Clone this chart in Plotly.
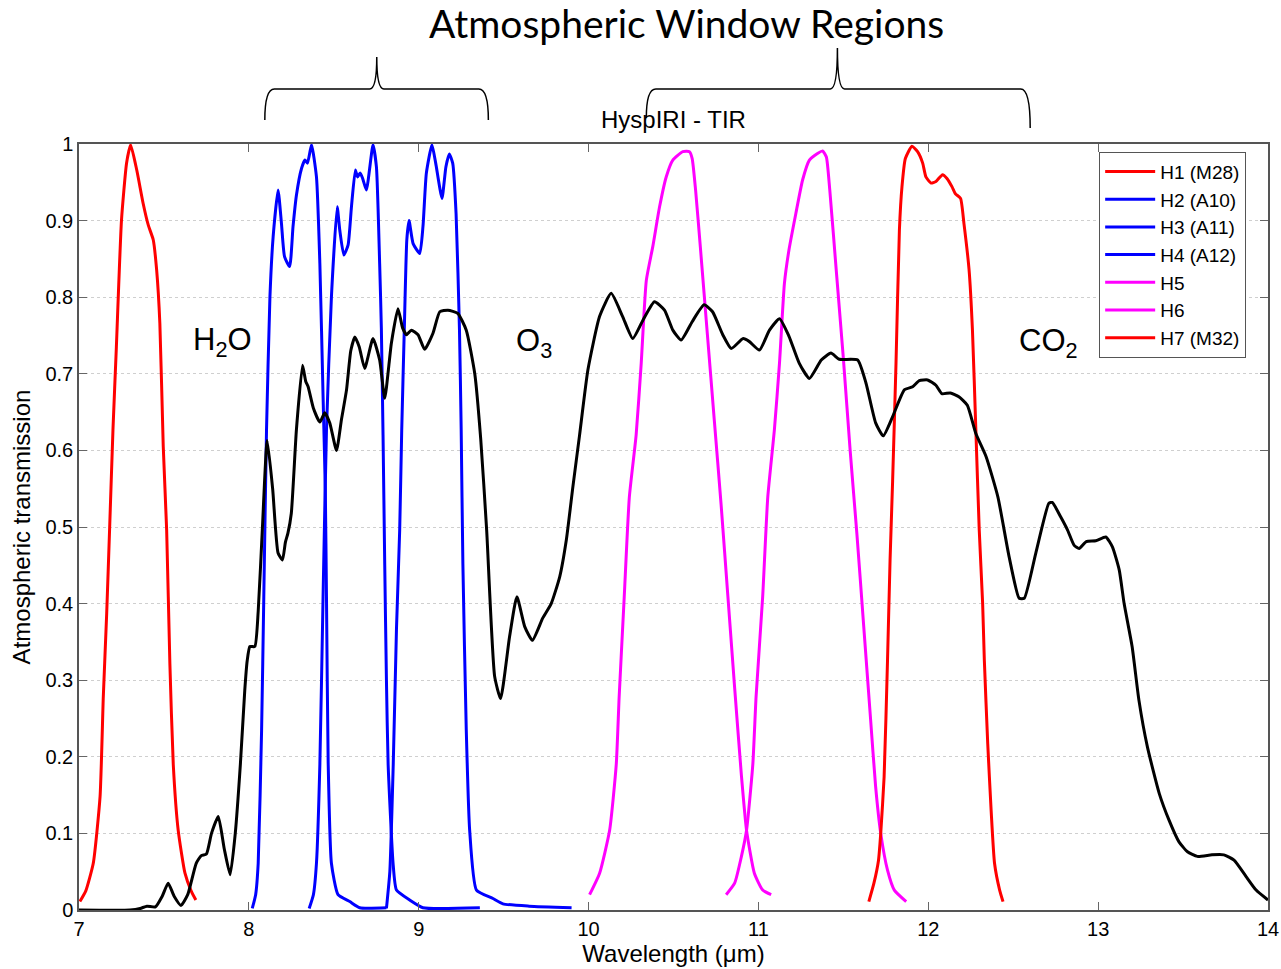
import plotly.graph_objects as go

# ---------------- data ----------------
atm_wavelength = [7.00, 7.30, 7.36, 7.40, 7.45, 7.49, 7.525, 7.56, 7.60, 7.64, 7.69, 7.72, 7.75, 7.78, 7.82,
                  7.855, 7.89, 7.92, 7.95, 7.976, 7.99, 8.006, 8.035, 8.055, 8.08, 8.108, 8.14, 8.172, 8.198,
                  8.215, 8.23, 8.25, 8.28, 8.316, 8.335, 8.349, 8.38, 8.418, 8.447, 8.476, 8.516, 8.545, 8.575,
                  8.60, 8.624, 8.65, 8.682, 8.731, 8.77, 8.80, 8.839, 8.878, 8.905, 8.928, 8.957, 8.996, 9.035,
                  9.084, 9.124, 9.172, 9.23, 9.28, 9.33, 9.365, 9.40, 9.447, 9.482, 9.535, 9.578, 9.624, 9.669,
                  9.73, 9.78, 9.83, 9.869, 9.908, 9.947, 9.996, 10.065, 10.133, 10.20, 10.26, 10.32, 10.388,
                  10.447, 10.496, 10.545, 10.61, 10.68, 10.73, 10.79, 10.84, 10.91, 10.947, 11.006, 11.065,
                  11.124, 11.18, 11.24, 11.30, 11.37, 11.427, 11.476, 11.584, 11.633, 11.69, 11.735, 11.79,
                  11.859, 11.908, 11.947, 11.996, 12.045, 12.08, 12.13, 12.18, 12.23, 12.28, 12.34, 12.41,
                  12.476, 12.535, 12.565, 12.633, 12.71, 12.73, 12.78, 12.82, 12.859, 12.888, 12.93, 12.986,
                  13.045, 13.084, 13.124, 13.153, 13.20, 13.24, 13.29, 13.36, 13.418, 13.476, 13.526, 13.584,
                  13.67, 13.74, 13.80, 13.87, 13.93, 14.00]
atm_transmission = [0.000, 0.000, 0.002, 0.005, 0.004, 0.018, 0.035, 0.018, 0.006, 0.020, 0.061, 0.071, 0.073,
                    0.100, 0.122, 0.080, 0.046, 0.100, 0.190, 0.287, 0.325, 0.344, 0.344, 0.390, 0.500, 0.613,
                    0.550, 0.466, 0.457, 0.480, 0.492, 0.518, 0.627, 0.711, 0.690, 0.683, 0.655, 0.637, 0.649,
                    0.636, 0.600, 0.640, 0.679, 0.730, 0.748, 0.735, 0.707, 0.746, 0.718, 0.668, 0.740, 0.785,
                    0.760, 0.751, 0.757, 0.751, 0.732, 0.753, 0.781, 0.783, 0.779, 0.757, 0.700, 0.615, 0.496,
                    0.305, 0.276, 0.357, 0.409, 0.370, 0.352, 0.381, 0.400, 0.435, 0.483, 0.553, 0.620, 0.705,
                    0.775, 0.805, 0.775, 0.746, 0.770, 0.794, 0.783, 0.757, 0.744, 0.768, 0.790, 0.781, 0.751,
                    0.733, 0.746, 0.742, 0.731, 0.757, 0.772, 0.749, 0.714, 0.694, 0.718, 0.727, 0.719, 0.718,
                    0.688, 0.636, 0.619, 0.644, 0.679, 0.683, 0.691, 0.692, 0.685, 0.674, 0.675, 0.670, 0.659,
                    0.622, 0.592, 0.539, 0.461, 0.407, 0.407, 0.466, 0.531, 0.532, 0.513, 0.496, 0.476, 0.472,
                    0.481, 0.482, 0.487, 0.474, 0.444, 0.400, 0.344, 0.274, 0.213, 0.152, 0.117, 0.089, 0.076,
                    0.070, 0.072, 0.072, 0.065, 0.044, 0.026, 0.013]

band_names = ["H1 (M28)", "H2 (A10)", "H3 (A11)", "H4 (A12)", "H5", "H6", "H7 (M32)"]
band_colors = ["#ff0000", "#0000ff", "#0000ff", "#0000ff", "#ff00ff", "#ff00ff", "#ff0000"]

h1_x = [7.005, 7.04, 7.084, 7.124, 7.143, 7.163, 7.18, 7.20, 7.22, 7.25, 7.28, 7.304, 7.34, 7.378, 7.408,
        7.437, 7.457, 7.476, 7.496, 7.516, 7.535, 7.555, 7.584, 7.624, 7.66, 7.688]
h1_y = [0.011, 0.025, 0.061, 0.148, 0.278, 0.387, 0.496, 0.627, 0.735, 0.900, 0.975, 0.999, 0.966, 0.922,
        0.894, 0.875, 0.836, 0.766, 0.605, 0.496, 0.322, 0.190, 0.104, 0.048, 0.025, 0.013]

h2_x = [8.02, 8.04, 8.055, 8.075, 8.088, 8.104, 8.124, 8.143, 8.172, 8.192, 8.21, 8.24, 8.26, 8.28, 8.31,
        8.33, 8.345, 8.369, 8.398, 8.418, 8.437, 8.45, 8.457, 8.467, 8.486, 8.525, 8.594, 8.653, 8.81]
h2_y = [0.002, 0.020, 0.061, 0.235, 0.409, 0.627, 0.800, 0.879, 0.940, 0.896, 0.853, 0.840, 0.892, 0.933,
        0.968, 0.979, 0.975, 0.999, 0.957, 0.844, 0.670, 0.550, 0.409, 0.192, 0.061, 0.020, 0.011, 0.003, 0.003]

h3_x = [8.355, 8.38, 8.398, 8.418, 8.437, 8.457, 8.486, 8.52, 8.535, 8.559, 8.584, 8.604, 8.627, 8.64,
        8.655, 8.67, 8.692, 8.731, 8.751, 8.77, 8.78, 8.79, 8.80, 8.81, 8.82, 8.849, 8.869, 8.947, 9.025, 9.36]
h3_y = [0.002, 0.020, 0.061, 0.190, 0.410, 0.627, 0.800, 0.918, 0.888, 0.855, 0.868, 0.918, 0.966, 0.957,
        0.962, 0.955, 0.940, 0.999, 0.970, 0.844, 0.760, 0.620, 0.450, 0.300, 0.190, 0.061, 0.026, 0.013,
        0.003, 0.003]

h4_x = [8.81, 8.83, 8.85, 8.869, 8.888, 8.90, 8.915, 8.93, 8.943, 8.967, 9.006, 9.025, 9.045, 9.078, 9.10,
        9.137, 9.16, 9.18, 9.20, 9.22, 9.24, 9.25, 9.26, 9.28, 9.30, 9.34, 9.437, 9.496, 9.65, 9.90]
h4_y = [0.002, 0.050, 0.190, 0.366, 0.496, 0.627, 0.757, 0.875, 0.900, 0.870, 0.857, 0.892, 0.962, 0.999,
        0.975, 0.929, 0.970, 0.987, 0.975, 0.909, 0.757, 0.627, 0.452, 0.235, 0.104, 0.026, 0.015, 0.008,
        0.005, 0.003]

h5_x = [10.006, 10.065, 10.124, 10.163, 10.18, 10.21, 10.24, 10.28, 10.31, 10.34, 10.378, 10.418, 10.457,
        10.496, 10.555, 10.594, 10.61, 10.63, 10.66, 10.70, 10.74, 10.78, 10.82, 10.86, 10.90, 10.93,
        10.976, 11.025, 11.075]
h5_y = [0.020, 0.048, 0.104, 0.190, 0.278, 0.409, 0.539, 0.620, 0.714, 0.822, 0.866, 0.918, 0.957, 0.979,
        0.990, 0.990, 0.981, 0.940, 0.860, 0.750, 0.640, 0.530, 0.410, 0.290, 0.175, 0.104, 0.048, 0.026, 0.020]

h6_x = [10.81, 10.86, 10.90, 10.93, 10.967, 10.986, 11.025, 11.055, 11.094, 11.124, 11.153, 11.18, 11.22,
        11.26, 11.30, 11.35, 11.378, 11.40, 11.42, 11.46, 11.50, 11.54, 11.58, 11.62, 11.66,
        11.69, 11.72, 11.76, 11.80, 11.87]
h6_y = [0.020, 0.035, 0.070, 0.104, 0.190, 0.278, 0.409, 0.539, 0.627, 0.714, 0.818, 0.862, 0.909, 0.953,
        0.979, 0.988, 0.991, 0.983, 0.940, 0.830, 0.720, 0.600, 0.490, 0.370, 0.250, 0.161, 0.100,
        0.052, 0.026, 0.011]

h7_x = [11.65, 11.68, 11.707, 11.72, 11.74, 11.76, 11.775, 11.79, 11.81, 11.83, 11.845, 11.865, 11.904,
        11.937, 11.967, 11.986, 12.016, 12.045, 12.084, 12.11, 12.14, 12.16, 12.19, 12.21, 12.24, 12.26,
        12.28, 12.30, 12.32, 12.33, 12.35, 12.37, 12.39, 12.42, 12.44]
h7_y = [0.011, 0.035, 0.065, 0.100, 0.174, 0.326, 0.457, 0.560, 0.714, 0.888, 0.944, 0.981, 0.997, 0.990,
        0.975, 0.957, 0.949, 0.951, 0.960, 0.955, 0.944, 0.935, 0.929, 0.896, 0.836, 0.757, 0.627, 0.496,
        0.400, 0.326, 0.217, 0.130, 0.061, 0.026, 0.011]

band_x = [h1_x, h2_x, h3_x, h4_x, h5_x, h6_x, h7_x]
band_y = [h1_y, h2_y, h3_y, h4_y, h5_y, h6_y, h7_y]

x_ticks = [7, 8, 9, 10, 11, 12, 13, 14]
x_tick_text = ["7", "8", "9", "10", "11", "12", "13", "14"]
y_ticks = [0, 0.1, 0.2, 0.3, 0.4, 0.5, 0.6, 0.7, 0.8, 0.9, 1.0]
y_tick_text = ["0", "0.1", "0.2", "0.3", "0.4", "0.5", "0.6", "0.7", "0.8", "0.9", "1"]

# window regions marked by braces (wavelength extents: start, centre, end)
brace_regions = [(8.094, 8.753, 9.41), (10.34, 11.465, 12.6)]
gas_labels = ["H<sub>2</sub>O", "O<sub>3</sub>", "CO<sub>2</sub>"]
gas_label_x = [7.66, 9.56, 12.52]
gas_label_y = [0.742, 0.740, 0.740]

# ---------------- figure ----------------
fig = go.Figure()
for name, color, xs, ys in zip(band_names, band_colors, band_x, band_y):
    fig.add_trace(go.Scatter(x=xs, y=ys, mode="lines", name=name,
                             line=dict(color=color, width=3, shape="spline", smoothing=0.5)))

fig.add_trace(go.Scatter(x=atm_wavelength, y=atm_transmission, mode="lines", showlegend=False,
                         name="Atmospheric transmission",
                         line=dict(color="black", width=3, shape="spline", smoothing=0.5)))

XMIN, XMAX = 7, 14


def to_paper(x):
    return (x - XMIN) / (XMAX - XMIN)


brace_y = [(1.0313, 1.0718, 1.1136, 1.0313), (1.034, 1.0718, 1.1253, 1.021)]
shapes = []
for (x0, xc, x1), (yb0, yh, yt, yb1) in zip(brace_regions, brace_y):
    p0, pc, p1 = to_paper(x0), to_paper(xc), to_paper(x1)
    d = 0.008
    e = 0.006
    path = (f"M {p0},{yb0} Q {p0},{yh} {p0 + d},{yh} L {pc - e},{yh} "
            f"Q {pc},{yh} {pc},{yt} Q {pc},{yh} {pc + e},{yh} "
            f"L {p1 - d},{yh} Q {p1},{yh} {p1},{yb1}")
    shapes.append(dict(type="path", path=path, xref="paper", yref="paper",
                       line=dict(color="black", width=1.5)))

annotations = [
    dict(text="Atmospheric Window Regions", xref="paper", yref="paper", x=0.511, y=1.1585,
         showarrow=False, xanchor="center", yanchor="middle",
         font=dict(family="Lato, Open Sans, sans-serif", size=39, color="black")),
    dict(text="HyspIRI - TIR", xref="paper", yref="paper", x=0.4996, y=1.0326,
         showarrow=False, xanchor="center", yanchor="middle",
         font=dict(family="Liberation Sans, Arial, sans-serif", size=24, color="black")),
]
for t, gx, gy in zip(gas_labels, gas_label_x, gas_label_y):
    annotations.append(dict(text=t, x=gx, y=gy, xref="x", yref="y", showarrow=False,
                            xanchor="left", yanchor="middle",
                            font=dict(family="Liberation Sans, Arial, sans-serif", size=31, color="black")))

fig.update_layout(
    width=1281, height=969, autosize=False,
    margin=dict(l=79, r=13, t=144, b=59),
    paper_bgcolor="white", plot_bgcolor="white",
    font=dict(family="Liberation Sans, Arial, sans-serif", color="black"),
    shapes=shapes, annotations=annotations,
    legend=dict(x=0.858, y=0.99, xanchor="left", yanchor="top",
                bgcolor="white", bordercolor="#555555", borderwidth=1,
                itemwidth=50,
                font=dict(size=19, color="black")),
    xaxis=dict(range=[XMIN, XMAX], tickvals=x_ticks, ticktext=x_tick_text, automargin=False,
               ticks="inside", ticklen=8, tickcolor="#666666", showline=True, linecolor="#555555",
               linewidth=1.5, mirror="ticks", showgrid=False, zeroline=False,
               tickfont=dict(size=20),
               title=dict(text="Wavelength (μm)", font=dict(size=24), standoff=6)),
    yaxis=dict(range=[0, 1], tickvals=y_ticks, ticktext=y_tick_text, automargin=False,
               ticks="inside", ticklen=8, tickcolor="#666666", showline=True, linecolor="#555555",
               linewidth=1.5, mirror="ticks", showgrid=True, gridcolor="#cfcfcf", griddash="dot",
               gridwidth=1, zeroline=False, tickfont=dict(size=20),
               title=dict(text="Atmospheric transmission", font=dict(size=24), standoff=8)),
)

# remove the browser's default page margin so the figure fills the window exactly
fig.write_html("out.html", config={"displayModeBar": False},
               post_script="document.body.style.margin='0';")
